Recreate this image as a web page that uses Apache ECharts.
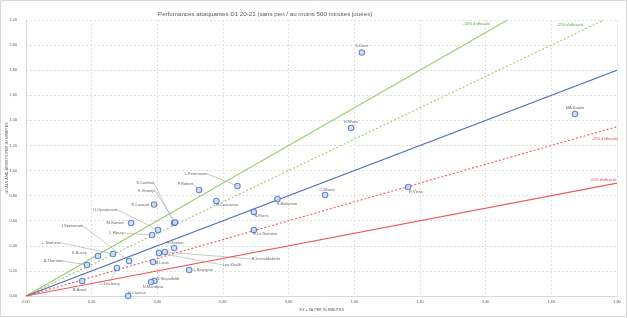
<!DOCTYPE html>
<html>
<head>
<meta charset="utf-8">
<script src="https://cdn.jsdelivr.net/npm/echarts@6/dist/echarts.min.js"></script>
<style>html,body{margin:0;padding:0;background:#fff}#c{width:628px;height:318px}</style>
</head>
<body>
<div id="c"></div>
<script>
// ---- data ----
const playerNames = ['K.Diani','K.Shaw','MA.Katoto','E.Viens','C.Mateo','S.Baltimore','N.Parris','E.Le Sommer','L.Petermann','F.Robert','D.Cascarino','S.Cambot','K.Snoeijs','R.Lavaud','M.Gomes','U.Oparanozie','L.Fleury','S.Gontan','B.Þorvaldsdóttir','Lea Khelifi','B.Louis','L.Bourgoin','N.Stapelfeldt','N.Mandoso','K.Cazeau','L.Teinturier','K.Bussy','J.Spetsmark','A.Thornton','L.Declercq','B.Avant'];
const xgPlusXa = [1.023,0.990,1.672,1.164,0.911,0.766,0.694,0.694,0.644,0.527,0.580,0.451,0.454,0.390,0.320,0.402,0.384,0.451,0.423,0.405,0.387,0.497,0.391,0.381,0.311,0.265,0.219,0.314,0.186,0.277,0.171];
const goalsAssists = [1.941,1.339,1.451,0.869,0.805,0.773,0.670,0.526,0.877,0.845,0.757,0.582,0.586,0.729,0.582,0.526,0.486,0.383,0.351,0.343,0.271,0.207,0.120,0.112,0.000,0.335,0.319,0.279,0.247,0.223,0.120];
const efficiencySlopes = [1.5, 1.25, 1, 0.75, 0.5];
const efficiencyLabels = ["+50% d'efficacité", "+25% d'efficacité", "", "-25% d'efficacité", "-50% d'efficacité"];
const xTickMax = 1.8, yTickMax = 2.2, tickStep = 0.2;

// ---- label placement (pixels, relative to point) ----
const labelPlacement = {
  'K.Diani':[0,-7,0],'K.Shaw':[0,-6.5,0],'MA.Katoto':[0,-6.5,0],'E.Viens':[8,5,0],'C.Mateo':[2,-5,0],
  'S.Baltimore':[9.5,4.5,0],'N.Parris':[7.5,4,0],'E.Le Sommer':[11.5,3.7,0],'L.Petermann':[-41.5,-12,1],
  'F.Robert':[-13.5,-6,1],'D.Cascarino':[10.5,3.5,0],'S.Cambot':[-29,-40,1],'K.Snoeijs':[-28.5,-32,1],
  'R.Lavaud':[-14,0,0],'M.Gomes':[-16,0,0],'U.Oparanozie':[-52.5,-20,1],'L.Fleury':[-35.5,-2,1],
  'S.Gontan':[1,-5,0],'B.Þorvaldsdóttir':[101,7,1],'Lea Khelifi':[73,12,1],'B.Louis':[9,1,0],
  'L.Bourgoin':[14,0,0],'N.Stapelfeldt':[13.5,-2,0],'N.Mandoso':[2,5,0],'K.Cazeau':[9,-3.5,0],
  'L.Teinturier':[-61.5,-11,1],'K.Bussy':[-18.5,-3,0],'J.Spetsmark':[-57,-35,1],'A.Thornton':[-33.5,-4,1],
  'L.Declercq':[-7,16,1],'B.Avant':[-2.5,9,0]
};
const lineStyles = [
  {color:'#9CCB6E', type:'solid', text:'#5E9B36', off:[-31,4]},
  {color:'#9CCB6E', type:[2,2], text:'#5E9B36', off:[-34,5]},
  {color:'#4A6BB2', type:'solid', text:'#4A6BB2', off:[0,0]},
  {color:'#EC5A5C', type:[2,2], text:'#E03C3C', off:[-12,12.5]},
  {color:'#EC5A5C', type:'solid', text:'#E03C3C', off:[-13.5,-3]}
];

const FONT = 'Liberation Sans';
const fmt = v => v.toFixed(2).replace('.', ',');

const lineSeries = efficiencySlopes.map((k, i) => {
  const endX = Math.min(xTickMax, yTickMax / k);
  const st = lineStyles[i];
  return {
    type: 'line', silent: true, z: 2,
    symbol: 'circle', symbolSize: 0, showSymbol: true,
    lineStyle: {color: st.color, width: 1.1, type: st.type},
    itemStyle: {color: st.color},
    data: [
      {value: [0, 0], label: {show: false}},
      {value: [endX, endX * k], label: {
        show: efficiencyLabels[i] !== '', position: 'inside', formatter: efficiencyLabels[i],
        offset: st.off, fontSize: 3.6, color: st.text, fontFamily: FONT
      }}
    ]
  };
});

function makePts(withLeader) {
  const pts = [];
  playerNames.forEach((n, i) => {
    if ((labelPlacement[n][2] === 1) === withLeader) pts.push({value: [xgPlusXa[i], goalsAssists[i]], name: n});
  });
  return pts;
}
function pointSeries(withLeader) {
  const pts = makePts(withLeader);
  return {
    type: 'scatter', z: 5,
    symbol: 'circle', symbolSize: 5.5,
    itemStyle: {color: '#C9D6EE', borderColor: '#4472C4', borderWidth: 1.1},
    label: {show: true, position: 'inside', formatter: p => p.name, fontSize: 4, color: '#404040', fontFamily: FONT},
    labelLine: {show: withLeader, lineStyle: {color: '#A6A6A6', width: 0.6}},
    labelLayout: function (params) {
      const p = labelPlacement[pts[params.dataIndex].name];
      return {dx: p[0], dy: p[1]};
    },
    data: pts
  };
}

const chart = echarts.init(document.getElementById('c'), null, {renderer: 'canvas'});
chart.setOption({
  animation: false,
  backgroundColor: '#fff',
  textStyle: {fontFamily: FONT},
  title: {
    text: 'Perfomances attaquantes D1 20-21 (sans pen / au moins 500 minutes jouées)',
    left: 153, top: 6,
    textStyle: {fontSize: 6.2, fontWeight: 'normal', color: '#595959', fontFamily: FONT}
  },
  graphic: [{type: 'rect', shape: {x: 0.5, y: 0.5, width: 626, height: 316}, style: {fill: 'none', stroke: '#D9D9D9', lineWidth: 1}, silent: true}],
  grid: {left: 26, right: 11, top: 20, bottom: 22, containLabel: false, outerBoundsMode: 'none'},
  xAxis: {
    type: 'value', min: 0, max: xTickMax, interval: tickStep,
    name: 'XG + XA PER 90 MINUTES', nameLocation: 'middle', nameGap: 12, nameMoveOverlap: false,
    nameTextStyle: {fontSize: 3.6, color: '#595959', fontFamily: FONT},
    axisLine: {show: true, lineStyle: {color: '#D9D9D9', width: 1}},
    axisTick: {show: false},
    axisLabel: {formatter: fmt, fontSize: 3.8, color: '#595959', margin: 4, fontFamily: FONT},
    splitLine: {show: true, lineStyle: {color: '#D9D9D9', type: [2, 2], width: 0.8}}
  },
  yAxis: {
    type: 'value', min: 0, max: yTickMax, interval: tickStep,
    name: 'GOALS AND ASSISTS PER 90 MINUTES', nameLocation: 'middle', nameGap: 17, nameRotate: 90, nameMoveOverlap: false,
    nameTextStyle: {fontSize: 3.8, color: '#595959', fontFamily: FONT},
    axisLine: {show: true, lineStyle: {color: '#D9D9D9', width: 1}},
    axisTick: {show: false},
    axisLabel: {formatter: fmt, fontSize: 3.8, color: '#595959', margin: 9, fontFamily: FONT},
    splitLine: {show: true, lineStyle: {color: '#D9D9D9', type: [2, 2], width: 0.8}}
  },
  series: [...lineSeries, pointSeries(false), pointSeries(true)]
});
</script>
</body>
</html>
